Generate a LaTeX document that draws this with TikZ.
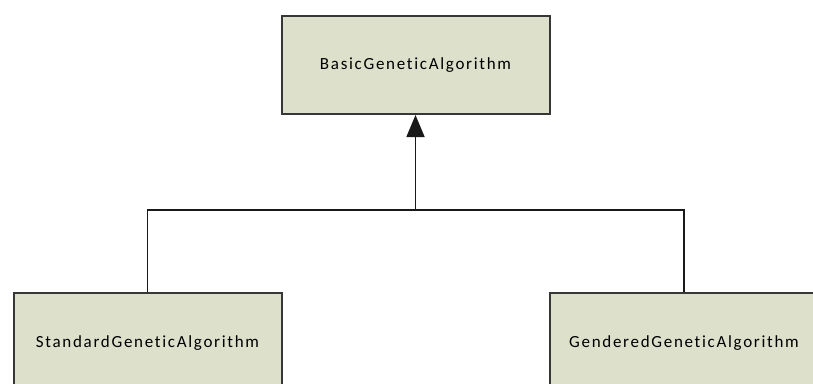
\documentclass[tikz,border=0pt]{standalone}
\usepackage{fontspec}
\setmainfont{Carlito}[Ligatures=NoCommon]
\usetikzlibrary{arrows.meta}
\definecolor{boxfill}{RGB}{221,224,203}
\definecolor{boxline}{RGB}{55,55,55}
\tikzset{
  classbox/.style={draw=boxline, line width=2pt, fill=boxfill, rectangle,
    minimum width=268pt, minimum height=98pt, inner sep=0pt,
    font=\fontsize{17}{19}\selectfont\addfontfeatures{LetterSpace=10}},
  conn/.style={draw=black!90, line width=1.6pt},
}
\begin{document}
\begin{tikzpicture}[x=1pt,y=-1pt]
\useasboundingbox (0,0) rectangle (813,383);
\clip (0,0) rectangle (813,383);
\node[classbox] (base) at (415.5,65) {BasicGeneticAlgorithm};
\node[classbox, minimum height=100pt] (std) at (147.5,343) {StandardGeneticAlgorithm};
\node[classbox, minimum height=100pt] (gen) at (684,343) {GenderedGeneticAlgorithm};
\coordinate (junc) at (415.5,210);
\draw[conn] (std.north) |- (junc) -| (gen.north);
\draw[conn, -{Triangle[width=18pt,length=22pt]}] (junc) -- (base.south);
\end{tikzpicture}
\end{document}
